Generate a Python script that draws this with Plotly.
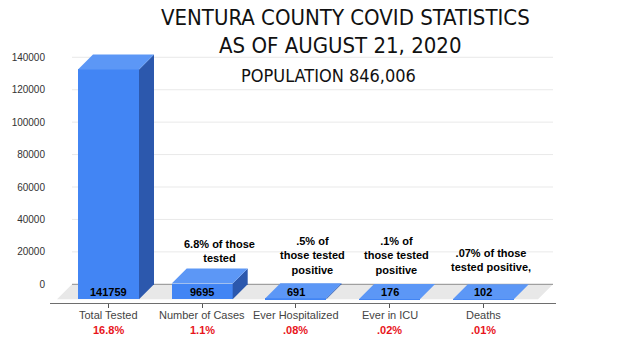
import plotly.graph_objects as go

# ---- data -------------------------------------------------------------
categories = ["Total Tested", "Number of Cases", "Ever Hospitalized", "Ever in ICU", "Deaths"]
counts = [141759, 9695, 691, 176, 102]
share_of_population = ["16.8%", "1.1%", ".08%", ".02%", ".01%"]
notes = ["", "6.8% of those<br>tested", ".5% of<br>those tested<br>positive",
         ".1% of<br>those tested<br>positive", ".07% of those<br>tested positive,"]
y_ticks = [0, 20000, 40000, 60000, 80000, 100000, 120000, 140000]
title_lines = ["VENTURA COUNTY COVID STATISTICS", "AS OF AUGUST 21, 2020", "POPULATION 846,006"]

# ---- geometry (pixels) -------------------------------------------------
W, H = 618, 340
M_L, M_R, M_T, M_B = 50, 62, 40, 37
PLOT_W = W - M_L - M_R
PLOT_H = H - M_T - M_B
ZERO_PX = 284.3              # pixel row of the value 0 on the back wall
PX_PER_UNIT = 32.43 / 20000  # vertical pixels per count
CAT_PX = 93.7                # pixels between categories
FIRST_PX = 123.5             # back-wall centre of the first category
DEPTH_PX = 15                # 3-D depth of bars and floor
BAR_PX = 61
WALL_L_PX, WALL_R_PX = 72, 553

y_min = -(H - M_B - ZERO_PX) / PX_PER_UNIT
y_max = (ZERO_PX - M_T) / PX_PER_UNIT
x_min = (M_L - FIRST_PX) / CAT_PX
x_max = (W - M_R - FIRST_PX) / CAT_PX
dx = DEPTH_PX / CAT_PX
dy = DEPTH_PX / PX_PER_UNIT
bar_w = BAR_PX / CAT_PX
wall_l = (WALL_L_PX - FIRST_PX) / CAT_PX
wall_r = (WALL_R_PX - FIRST_PX) / CAT_PX


def px_x(px):
    return (px - FIRST_PX) / CAT_PX


def paper_x(px):
    return (px - M_L) / PLOT_W


def paper_y(py):
    return (H - M_B - py) / PLOT_H


FRONT = "#4285f4"
TOP = "#5c97f6"
SIDE = "#2c58ad"
FONT = "Liberation Sans, Arial, sans-serif"
TITLE_FONT = "DejaVu Sans Condensed, sans-serif"

fig = go.Figure()

# side and top faces of each 3-D bar
for i, v in enumerate(counts):
    fc = i - dx
    xl, xr = fc - bar_w / 2, fc + bar_w / 2
    fig.add_trace(go.Scatter(
        x=[xr, xr + dx, xr + dx, xr, xr], y=[-dy, 0, v, v - dy, -dy],
        mode="lines", fill="toself", fillcolor=SIDE, line=dict(width=0),
        hoverinfo="skip", showlegend=False))
    fig.add_trace(go.Scatter(
        x=[xl, xr, xr + dx, xl + dx, xl], y=[v - dy, v - dy, v, v, v - dy],
        mode="lines", fill="toself", fillcolor=TOP, line=dict(width=0),
        hoverinfo="skip", showlegend=False))

# front faces
fig.add_trace(go.Bar(
    x=[i - dx for i in range(len(counts))], y=counts, base=-dy, width=bar_w,
    marker=dict(color=FRONT, line=dict(width=0)), hoverinfo="skip", showlegend=False))

shapes = []
# floor
shapes.append(dict(
    type="path", layer="below", xref="x", yref="y",
    path=f"M {wall_l},0 L {wall_r},0 L {wall_r - dx},{-dy} L {wall_l - dx},{-dy} Z",
    fillcolor="#e8e8e8", line=dict(width=0)))
# back-wall gridlines
for t in y_ticks:
    shapes.append(dict(
        type="line", layer="below", xref="x", yref="y",
        x0=wall_l, x1=wall_r, y0=t, y1=t,
        line=dict(color="#8c8c8c" if t == 0 else "#e9e9e9", width=1)))

annotations = []
# value labels on the floor
for i, v in enumerate(counts):
    annotations.append(dict(
        x=i - dx, y=-dy / 2, xref="x", yref="y", text=f"<b>{v}</b>", showarrow=False,
        yanchor="middle", font=dict(family=FONT, size=11, color="#000000")))
# category names and share of population (red) under each bar
for i, (c, s) in enumerate(zip(categories, share_of_population)):
    annotations.append(dict(
        x=i - dx, y=paper_y(314.5), xref="x", yref="paper", text=c,
        showarrow=False, yanchor="middle", font=dict(family=FONT, size=11, color="#444444")))
    annotations.append(dict(
        x=i - dx, y=paper_y(330), xref="x", yref="paper", text=f"<b>{s}</b>",
        showarrow=False, yanchor="middle", font=dict(family=FONT, size=11, color="#e8141b")))
# notes above the bars
note_pos = [None, (219, 250.5), (312, 255.5), (396, 255.5), (491, 260)]
for txt, pos in zip(notes, note_pos):
    if not txt:
        continue
    annotations.append(dict(
        x=px_x(pos[0]), y=paper_y(pos[1]), xref="x", yref="paper", text=f"<b>{txt}</b>",
        showarrow=False, yanchor="middle", font=dict(family=FONT, size=11, color="#000000")))
# title block
title_pos = [(345.5, 17.5, 22), (340, 45, 22), (328, 76, 18)]
for txt, (cx, cy, sz) in zip(title_lines, title_pos):
    annotations.append(dict(
        x=paper_x(cx), y=paper_y(cy), xref="paper", yref="paper", text=txt,
        showarrow=False, yanchor="middle",
        font=dict(family=TITLE_FONT, size=sz, color="#111111")))

fig.update_layout(
    width=W, height=H, margin=dict(l=M_L, r=M_R, t=M_T, b=M_B),
    paper_bgcolor="white", plot_bgcolor="white",
    shapes=shapes, annotations=annotations, bargap=0,
    xaxis=dict(range=[x_min, x_max], tickvals=[i - dx for i in range(len(categories))],
               ticktext=["" for _ in categories], showgrid=False, zeroline=False,
               showline=True, linecolor="#6e6e6e", linewidth=1,
               ticks="outside", ticklen=4, tickcolor="#555555", fixedrange=True),
    yaxis=dict(range=[y_min, y_max], tickvals=y_ticks, ticktext=[str(t) for t in y_ticks],
               showgrid=False, zeroline=False, showline=False, ticks="",
               ticklabelstandoff=4,
               tickfont=dict(family=FONT, size=10, color="#333333"), fixedrange=True),
)

fig.write_html("out.html")
